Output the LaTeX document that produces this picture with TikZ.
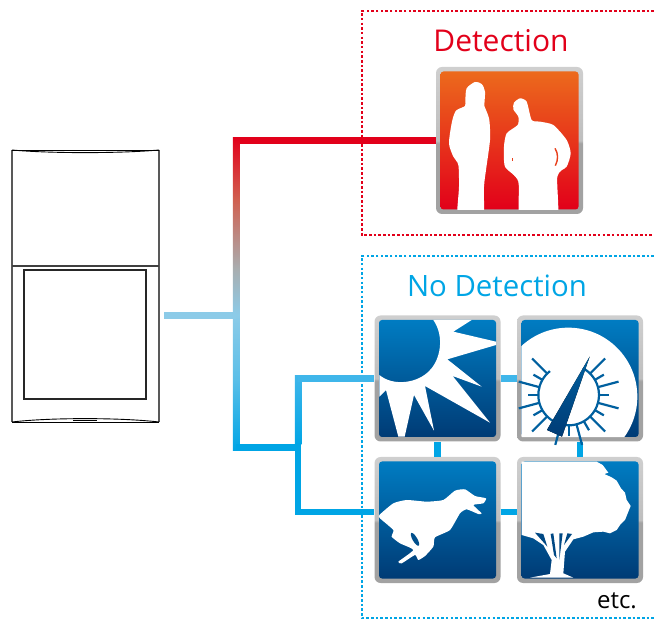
\documentclass[tikz,border=0pt]{standalone}
\usepackage{fontspec}
\usetikzlibrary{calc}
\setmainfont{Open Sans}
\definecolor{alarmred}{HTML}{E2001A}
\definecolor{alarmorange}{HTML}{EC6A1C}
\definecolor{calmblue}{HTML}{00A5E5}
\definecolor{calmtop}{HTML}{007CC2}
\definecolor{calmlow}{HTML}{003B75}
\definecolor{calmink}{HTML}{00609F}
\definecolor{wirepale}{HTML}{8CCBE8}
\definecolor{wiresky}{HTML}{5BBFE8}
\definecolor{wiresoft}{HTML}{3FB6EA}
\definecolor{wiregrey}{HTML}{A9AEB0}
\definecolor{wirerose}{HTML}{D06050}
\definecolor{rimlight}{HTML}{CFCFCF}
\definecolor{rimdark}{HTML}{A2A2A2}
\pgfdeclareverticalshading{wireshade}{100bp}{color(0bp)=(calmblue); color(25bp)=(calmblue); color(36.5bp)=(wiresky); color(46.75bp)=(wirepale); color(54bp)=(wiregrey); color(65bp)=(wirerose); color(75bp)=(alarmred); color(100bp)=(alarmred)}
\pgfdeclareverticalshading{rimshade}{100bp}{color(0bp)=(rimdark); color(25bp)=(rimdark); color(49bp)=(rimdark); color(50bp)=(rimlight!92!black); color(75bp)=(rimlight); color(100bp)=(rimlight)}
\tikzset{
  iconrim/.style={rectangle,rounded corners=6pt,shading=rimshade,inner sep=0pt,minimum width=#1,minimum height=#1},
  calmface/.style={rectangle,rounded corners=3pt,inner sep=0pt,top color=calmtop,bottom color=calmlow,minimum width=#1,minimum height=#1},
  alarmface/.style={rectangle,rounded corners=3pt,inner sep=0pt,top color=alarmorange,bottom color=alarmred,minimum width=#1,minimum height=#1},
  wire/.style={line width=6.5pt,calmblue},
  softwire/.style={line width=6.5pt,wiresoft},
  zone/.style={line width=2.6pt,dash pattern=on 2.6pt off 2.07pt},
  caption/.style={inner sep=0pt,font=\fontsize{#1}{#1}\selectfont},
  cutout/.style={fill=white,draw=none},
  gaugeline/.style={calmink,line width=2.2pt}
}
\begin{document}
\begin{tikzpicture}[x=1pt,y=-1pt]
  \useasboundingbox (0,0) rectangle (654,620);
  \draw
    (362,11) coordinate (redtop)
    (654,11) coordinate (redtopend)
    (362,235) coordinate (redlow)
    (654,235) coordinate (redlowend)
    (362,256) coordinate (bluetop)
    (654,256) coordinate (bluetopend)
    (362,618) coordinate (bluelow)
    (654,618) coordinate (bluelowend);
  \draw[zone,alarmred] (redtopend) -- (redtop) -- (redlow) -- (redlowend);
  \draw[zone,calmblue] (bluetopend) -- (bluetop) -- (bluelow) -- (bluelowend);
  \node[caption=30,text=alarmred] (detecttext) at (501,41) {Detection};
  \node[caption=29.4,text=calmblue] (calmtext) at (497,286) {No Detection};
  \node[caption=24] (etctext) at (617,601) {etc.};

  \node[iconrim=147pt] (peopleicon) at (509.5,140.5) {};
  \node[iconrim=126pt] (sunicon) at (437.5,378.5) {};
  \node[iconrim=126pt] (gaugeicon) at (580,378.5) {};
  \node[iconrim=126pt] (dogicon) at (437.5,520) {};
  \node[iconrim=126pt] (treeicon) at (580,520) {};

  \draw
    (236,140.5) coordinate (redcorner)
    (236,447.5) coordinate (bluecorner)
    (164,315.4) coordinate (stubstart)
    (236,315.4) coordinate (stubend)
    (298,447.5) coordinate (forkmid)
    (298,378.5) coordinate (forktop)
    (298,512) coordinate (forklow);
  \draw[wire,alarmred] (peopleicon.west) -- (redcorner);
  \shade[shading=wireshade] ($(redcorner)+(-3.25,-3.25)$) rectangle ($(bluecorner)+(3.25,3.25)$);
  \draw[wire,wirepale] (stubstart) -- (stubend);
  \draw[wire] (bluecorner) -- (forkmid);
  \shade[top color=wiresoft,bottom color=calmblue] ($(forktop)+(-3.25,-3.25)$) rectangle ($(forkmid)+(3.25,-3.25)$);
  \draw[wire] ($(forkmid)+(0,-3.4)$) -- ($(forklow)+(0,3.25)$);
  \draw[softwire] (forktop) -- (sunicon.west);
  \draw[wire] (forklow) -- ([yshift=8pt]dogicon.west);
  \draw[softwire] (sunicon.east) -- (gaugeicon.west);
  \draw[wire] ([yshift=8pt]dogicon.east) -- ([yshift=8pt]treeicon.west);
  \draw[wire] (sunicon.south) -- (dogicon.north);
  \draw[wire] (gaugeicon.south) -- (treeicon.north);

  \node[alarmface=138pt] (peopleface) at (peopleicon) {};
  \node[calmface=117pt] (sunface) at (sunicon) {};
  \node[calmface=117pt] (gaugeface) at (gaugeicon) {};
  \node[calmface=117pt] (dogface) at (dogicon) {};
  \node[calmface=117pt] (treeface) at (treeicon) {};

  \begin{scope}[shift={(350,0)},scale=1/3]
    \begin{scope}
      \clip (peopleface.south west) rectangle (peopleface.north east);
      \fill[cutout] plot[smooth cycle,tension=.45] coordinates {(375,246) (350,265) (346,300) (345,318) (318,332) (306,365) (297,430) (310,470) (325,495) (327,560) (324,680) (396,680) (402,560) (408,510) (420,420) (418,360) (408,330) (403,318) (405,275) (395,252)};
      \fill[cutout] plot[smooth cycle,tension=.4] coordinates {(510,295) (492,308) (490,328) (505,350) (503,375) (470,400) (462,440) (465,500) (505,545) (512,680) (620,680) (622,530) (650,500) (662,460) (650,420) (610,375) (570,365) (545,360) (530,305)};
    \end{scope}
    \draw[alarmorange!60!alarmred,line width=1.4pt] (615,445) .. controls (625,460) and (625,480) .. (616,497);
    \draw[alarmorange!60!alarmred,line width=.8pt] (487,475) -- (487,484);
  \end{scope}

  \begin{scope}[shift={(360,300)},scale=1/3]
    \fill[cutout] (220,60) -- (335,60) -- (280,95) -- (408,125) -- (408,135) -- (262,178) -- (365,260) -- (278,228) -- (390,368) -- (195,258) -- (222,392) -- (162,285) -- (134,410) -- (115,410) -- (78,270) -- (58,290) -- (58,225) .. controls (100,260) and (175,250) .. (210,210) .. controls (240,180) and (255,110) .. (220,60) -- cycle;
    \begin{scope}
      \clip[rounded corners=1pt] (gaugeface.south west) rectangle (gaugeface.north east);
      \fill[cutout] (625,290) circle (207);
    \end{scope}
    \draw[gaugeline] ($(626,285)+(232:91)$) arc (232:-62:91);
    \foreach \tickangle in {15,45,75,105,135,165,195,225,-15,-45}
      \draw[gaugeline] ($(626,285)+(\tickangle:91)$) -- ($(626,285)+(\tickangle:155)$);
    \foreach \tickangle in {0,30,60,90,120,150,180,210,-30}
      \draw[gaugeline] ($(626,285)+(\tickangle:91)$) -- ($(626,285)+(\tickangle:122)$);
    \fill[top color=calmink,bottom color=calmlow] (561,390) -- (689,170) -- (606,410) -- cycle;
  \end{scope}

  \begin{scope}[shift={(360,450)},scale=1/3]
    \fill[cutout] plot[smooth cycle,tension=.3] coordinates {(58,195) (100,160) (140,150) (200,155) (250,150) (285,122) (315,118) (345,138) (378,145) (370,160) (340,165) (365,190) (355,192) (320,178) (300,190) (270,240) (225,262) (220,290) (195,318) (175,330) (165,315) (125,340) (115,335) (160,300) (120,280) (95,260) (100,240) (60,205)};
    \fill[calmlow!70!calmtop,rotate around={-60:(165,268)}] (165,268) ellipse (22 and 7);
    \fill[cutout] (485,35) -- (710,35) -- (728,45) -- (745,68) -- (733,72) -- (755,82) -- (770,92) -- (783,115) -- (795,128) -- (800,150) -- (812,168) -- (803,190) -- (795,210) -- (780,225) -- (770,240) -- (750,250) -- (730,245) -- (700,247) -- (670,260) -- (640,268) -- (615,305) -- (610,370) -- (640,383) -- (510,383) -- (570,372) -- (575,330) -- (550,285) -- (520,265) -- (485,255) -- cycle;
    \fill[calmlow!80!calmtop] (525,248) -- (550,252) -- (562,290) -- cycle;
    \fill[calmlow!80!calmtop] (572,252) -- (580,250) -- (590,325) -- (582,315) -- cycle;
    \fill[calmlow!80!calmtop] (598,250) -- (608,250) -- (598,330) -- cycle;
    \fill[calmlow!80!calmtop] (622,250) -- (636,252) -- (612,285) -- cycle;
  \end{scope}

  \draw[color=black!65,line width=1.1pt] (12,150) -- (12,422) (159,150) -- (159,422);
  \node[draw=black!85,line width=1.1pt,inner sep=0pt,minimum width=122pt,minimum height=129pt] (devicewindow) at (85,334.5) {};
  \draw
    (12,150) coordinate (topleft)
    (159,150) coordinate (topright)
    (12,422) coordinate (lowleft)
    (159,422) coordinate (lowright)
    (12,266) coordinate (seamleft)
    (159,266) coordinate (seamright);
  \draw[line width=.9pt] (topleft) -- (topright);
  \draw[line width=.9pt] (topleft) .. controls (50,153.5) and (120,153.5) .. (topright);
  \draw[line width=.9pt] (lowleft) -- (lowright);
  \draw[line width=.9pt] (lowleft) .. controls (50,417.5) and (120,417.5) .. (lowright);
  \draw[line width=2pt,color=black!75] (seamleft) -- (seamright);
  \draw[line width=1.8pt] (73,420.5) -- (97,420.5);
\end{tikzpicture}
\end{document}
